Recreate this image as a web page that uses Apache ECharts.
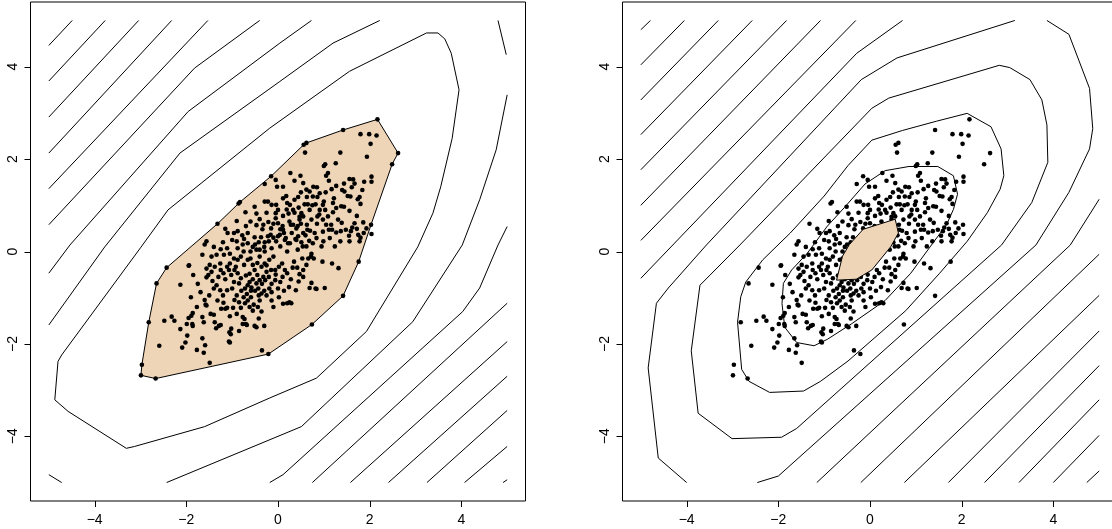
<!DOCTYPE html>
<html>
<head>
<meta charset="utf-8">
<script src="https://cdn.jsdelivr.net/npm/echarts@6/dist/echarts.min.js"></script>
<style>
  html, body { margin: 0; background: #fff; }
  #chart { width: 1112px; height: 529px; }
</style>
</head>
<body>
<div id="chart"></div>
<script>
// tick labels shared by both panels
const ticks = [-4, -2, 0, 2, 4];

// sample points (same data in both panels)
const pts = [
  [2.17,2.86],[1.42,2.63],[1.80,2.54],[1.99,2.54],[2.15,2.51],[2.02,2.33],[0.62,2.35],[0.56,2.31],[0.59,2.14],[1.36,2.14],
  [2.62,2.13],[1.94,2.05],[2.49,1.89],[1.03,1.89],[1.00,1.85],[1.26,1.91],[1.09,1.70],[1.05,1.64],[0.27,1.70],[0.49,1.64],
  [-0.15,1.63],[-0.05,1.55],[0.11,1.40],[-0.02,1.40],[0.36,1.53],[0.55,1.48],[0.69,1.30],[0.62,1.34],[0.85,1.39],[0.77,1.40],
  [1.11,1.53],[1.27,1.42],[1.44,1.47],[1.56,1.57],[1.64,1.56],[1.67,1.47],[1.88,1.51],[2.04,1.62],[2.04,1.51],[1.84,1.33],
  [1.61,1.39],[1.45,1.30],[1.40,1.33],[1.58,1.19],[1.78,1.18],[1.80,1.03],[1.74,1.13],[1.22,1.15],[1.20,1.05],[1.04,1.28],
  [1.00,1.08],[0.76,1.19],[0.63,1.18],[0.58,1.02],[0.91,1.26],[0.86,1.18],[0.98,1.01],[0.44,1.18],[0.36,1.12],[0.18,1.20],
  [0.11,1.15],[0.26,1.01],[-0.14,1.01],[-0.29,1.46],[-0.29,1.08],[-0.22,1.08],[0.50,1.28],[1.17,1.35],[1.52,1.20],[1.56,0.88],
  [1.44,0.97],
  [0.91,0.90],[1.03,0.90],[0.86,0.76],[0.69,0.90],[0.00,0.90],[-0.05,0.83],[0.33,0.90],[0.36,0.84],[0.51,0.83],[0.47,0.69],
  [0.55,0.76],[0.73,0.69],[0.63,0.58],[0.98,0.69],[1.09,0.76],[1.27,0.94],[1.38,0.98],[1.72,0.77],[1.67,0.61],[1.62,0.52],
  [1.31,0.69],[1.16,0.58],[1.11,0.47],[0.98,0.43],[1.27,0.41],[1.48,0.47],[1.39,0.62],[1.55,0.34],[1.75,0.36],[1.80,0.30],
  [1.93,0.50],[2.04,0.38],[2.03,0.58],[1.87,0.40],[1.86,0.63],[1.78,0.22],[1.56,0.22],[1.36,0.22],[1.24,0.11],[1.13,0.29],
  [0.84,0.29],[0.76,0.18],[0.55,0.40],[0.44,0.33],[0.15,0.25],[0.04,0.36],[0.11,0.47],[0.33,0.58],[0.00,0.61],[-0.10,0.60],
  [0.22,0.18],[0.51,0.20],[0.62,0.11],[0.95,0.11],[0.99,0.22],[0.70,0.45],[0.40,0.50],[0.19,0.91],[0.23,0.82],[0.11,0.77],
  [0.28,0.58],[0.43,0.55],[0.47,0.75],[0.64,0.47],[0.68,0.23],[0.38,0.27],[0.17,0.29],[1.05,0.58],[1.18,0.47],[1.37,0.44],
  [1.59,0.44],[1.72,0.49],[1.20,0.85],[0.82,1.02],[0.65,1.02],[0.10,0.55],[0.25,0.65],[0.30,0.40],[0.40,0.25],[0.50,0.60],
  [0.60,0.35],[0.80,0.40],[0.85,0.60],[0.90,0.80],[0.75,1.00],[0.45,0.95],[0.20,1.05],
  [-0.51,0.97],[-0.86,1.04],[-0.83,1.07],[-0.71,0.85],[-0.90,0.66],[-1.32,0.60],[-1.15,0.49],[-0.96,0.40],[-0.88,0.44],[-1.10,0.40],
  [-0.66,0.40],[-0.47,0.57],[-0.32,0.58],[-0.21,0.64],[-0.25,0.84],[-0.47,0.82],[-0.04,1.01],[-0.29,0.20],[-0.37,0.31],[-0.34,0.48],
  [-0.51,0.31],[-0.50,0.15],[-0.60,0.00],[-0.66,0.18],[-0.74,0.27],[-0.77,0.15],[-0.88,0.07],[-1.11,0.07],[-1.18,-0.07],[-1.34,-0.07],
  [-1.56,0.22],[-1.60,0.15],[-1.65,-0.07],[0.00,0.33],[0.13,0.40],[0.05,0.48],[-0.14,0.07],[0.05,0.11],[0.20,0.00],[0.26,0.18],
  [0.43,0.04],[0.54,0.11],[-0.22,0.33],[-0.40,0.04],[-0.16,0.36],[-0.04,0.22],[-0.05,0.72],[-0.15,0.50],[-0.40,0.70],[-0.60,0.65],
  [-0.70,0.55],[-0.78,0.35],[-0.90,0.22],[-1.00,0.25],[-1.20,0.20],[-1.25,0.05],[-1.40,0.10],[-0.55,0.10],[-0.42,0.20],[-0.30,0.10],
  [-0.20,0.22],[-0.10,0.30],
  [0.73,-0.05],[0.97,-0.22],[1.18,-0.26],[1.32,-0.36],[1.02,-0.79],[0.84,-0.81],[0.69,-0.79],[0.82,-0.80],[0.73,-0.68],[0.39,-0.84],
  [0.47,-0.49],[0.35,-0.22],[0.53,-0.15],[0.66,-0.15],[0.72,-0.11],[0.78,-0.15],[0.62,-0.29],[0.55,-0.40],[0.42,-0.35],[0.20,-0.47],
  [0.05,-0.66],[0.13,-0.85],[0.24,-0.77],[0.09,-0.26],[0.02,-0.33],[0.10,-0.55],[0.15,-0.40],[0.28,-0.60],[0.32,-0.35],[0.45,-0.65],
  [0.55,-0.55],[0.02,-0.99],[0.11,-1.13],[0.20,-1.12],[0.29,-1.12],[0.25,-1.10],[0.74,-1.58],[1.42,-0.96],[1.76,-0.22],
  [-0.06,-0.62],[-0.14,-0.70],[-0.19,-0.80],[0.00,-0.80],[-0.06,-0.40],[-0.10,-0.11],[-0.19,-0.18],[-0.29,-0.26],[-0.36,-0.33],[-0.25,-0.44],
  [-0.32,-0.55],[-0.45,-0.51],[-0.51,-0.40],[-0.55,-0.29],[-0.40,-0.11],[-0.29,0.00],[-0.47,0.04],[-0.66,-0.18],[-0.74,-0.29],[-0.81,-0.11],
  [-0.88,-0.18],[-0.96,-0.15],[-1.05,-0.26],[-1.26,-0.26],[-1.38,-0.33],[-1.49,-0.29],[-1.56,-0.37],[-1.45,-0.11],[-0.55,-0.60],[-0.40,-0.62],
  [-0.35,-0.70],[-0.28,-0.62],[-0.20,-0.55],[-0.62,-0.48],[-0.70,-0.52],[-0.58,-0.78],[-0.50,-0.85],[-0.42,-0.95],[-0.30,-0.85],[-0.68,-0.92],
  [-0.80,-0.85],[-0.90,-0.95],[-0.95,-1.05],[-0.85,-1.10],[-0.72,-1.12],[-0.62,-1.20],[-0.25,-0.30],[-0.15,-0.40],[-0.05,-0.50],[-0.45,-0.25],
  [-0.60,-0.15],[-0.75,0.00],[-1.05,-0.05],[-0.95,-0.40],[-1.15,-0.60],[-1.25,-0.40],[-1.40,-0.80],[-1.50,-0.95],[-1.20,-0.95],[-1.05,-1.40],
  [-0.90,-1.35],[-1.60,-1.05],[-1.75,-0.70],
  [-1.95,-0.31],[-1.85,-0.51],[-2.13,-0.72],[-1.90,-0.99],[-1.77,-1.20],[-1.69,-0.88],[-1.56,-0.56],[-1.52,-0.51],[-1.45,-0.44],[-1.43,-0.64],
  [-1.34,-0.73],[-1.30,-0.55],[-1.19,-0.47],[-1.11,-0.33],[-1.07,-0.40],[-1.02,-0.51],[-0.92,-0.33],[-0.88,-0.47],[-0.81,-0.58],[-0.85,-0.69],
  [-0.96,-0.66],[-1.00,-0.80],[-1.11,-0.84],[-1.26,-0.84],[-1.32,-1.06],[-1.19,-1.11],[-1.56,-1.17],[-1.65,-1.42],[-1.62,-1.53],[-1.86,-1.33],
  [-1.95,-1.44],[-1.99,-1.57],[-1.86,-1.61],[-2.13,-1.68],[-1.98,-1.82],[-2.02,-1.97],[-2.09,-2.08],[-1.77,-2.13],[-1.59,-2.03],[-1.62,-2.19],
  [-1.65,-1.88],[-1.49,-2.41],[-2.26,-1.50],[-2.48,-1.50],[-2.32,-1.41],[-2.59,-2.04],[-2.82,-1.53],[-2.97,-2.45],[-2.99,-2.68],[-2.67,-2.75],
  [-2.65,-0.69],[-2.43,-0.35],[-1.94,-0.30],[-1.47,-1.35],[-1.38,-1.53],[-1.29,-1.61],[-1.25,-1.59],[-1.35,-1.66],[-1.06,-1.75],[-1.05,-1.97],
  [-1.02,-1.67],[-0.85,-1.72],[-1.11,-1.22],[-1.15,-1.24],[-1.24,-1.24],[-0.98,-1.22],[-0.81,-1.22],[-0.77,-1.42],[-0.73,-1.46],[-0.70,-1.57],
  [-0.77,-1.57],[-0.68,-1.59],[-0.51,-1.61],[-0.47,-1.64],[-0.42,-1.45],[-0.30,-1.61],[-0.35,-2.14],[-0.21,-2.22],[-0.66,-1.06],[-0.75,-0.99],
  [-0.59,-0.99],[-0.59,-0.85],[-0.72,-0.80],[-0.66,-0.73],[-0.62,-0.66],[-0.47,-0.69],[-0.43,-0.80],[-0.36,-0.91],[-0.53,-1.15],[-0.44,-1.20],
  [-0.40,-1.06],[-0.14,-1.06],[-0.10,-1.20],[-0.14,-0.88],[-0.25,-0.95],[-0.36,-1.30],[-0.55,-1.28],[-1.89,-1.39],[-1.87,-1.57],[-1.58,-1.15],
  [-1.40,-1.37],[-1.03,-1.79],[-1.07,-1.95]
];

// left panel: outer hull of the points
const hullLeft = [
  [2.17,2.86],[1.42,2.63],[0.62,2.35],[0.56,2.31],[-0.15,1.63],[-0.83,1.07],[-0.86,1.04],[-1.32,0.60],
  [-2.43,-0.35],[-2.65,-0.69],[-2.82,-1.53],[-2.97,-2.45],[-2.99,-2.68],[-2.67,-2.75],[-0.21,-2.22],
  [0.74,-1.58],[1.42,-0.96],[1.76,-0.22],[2.03,0.58],[2.49,1.89],[2.62,2.13]
];

// right panel: deepest region
const coreRight = [
  [-0.15,0.48],[0.55,0.70],[0.62,0.40],[0.45,0.10],[0.04,-0.40],[-0.30,-0.60],[-0.73,-0.62],[-0.60,-0.10],[-0.45,0.15]
];

// left panel contour lines
const linesLeft = [
  [[-5,4.46],[-4.49,5]],
  [[-5,3.69],[-3.77,5]],
  [[-5,2.91],[-3.04,5]],
  [[-5,2.13],[-2.32,5]],
  [[-5,1.36],[-1.53,5]],
  [[-5,0.58],[-1.82,3.97],[-0.40,5]],
  [[-5,-0.47],[-4.54,0.14],[-1.96,3.03],[0.04,4.51],[0.73,5]],
  [[-5,-1.59],[-3.78,0.10],[-2.14,2.13],[0.04,3.68],[1.20,4.51],[2.22,5]],
  [[3.95,3.50],[3.78,4.29],[3.64,4.60],[3.49,4.73],[3.24,4.73],[1.56,3.90],[-0.18,2.67],[-2.40,0.90],[-3.00,0.08],
   [-4.72,-2.24],[-4.80,-2.38],[-4.87,-3.21],[-4.58,-3.46],[-3.31,-4.26],[-3.13,-4.22],[-1.60,-3.79],[-0.18,-3.17],
   [0.84,-2.74],[1.93,-1.73],[3.05,0.10],[3.38,0.83],[3.55,1.40],[3.80,2.45],[3.95,3.50]],
  [[-2.43,-5],[0,-4.0],[0.51,-3.79],[2.94,-1.52],[4.02,0.14],[4.40,1.12],[4.76,2.20],[5,3.39]],
  [[5,0.54],[4.80,0.14],[4.40,-0.79],[4.03,-1.30],[0.11,-4.83],[-0.18,-5]],
  [[5,-1.12],[0.75,-5]],
  [[5,-1.95],[1.58,-5]],
  [[5,-2.70],[2.41,-5]],
  [[5,-3.44],[3.25,-5]],
  [[5,-4.22],[4.07,-5]],
  [[5,-4.94],[4.91,-5]],
  [[4.80,5],[4.98,4.26]],
  [[-5,-4.83],[-4.72,-5]]
];

// right panel contour lines
const linesRight = [
  [[-5,4.80],[-4.79,5]],
  [[-5,4.04],[-4.05,5]],
  [[-5,3.28],[-3.31,5]],
  [[-5,2.53],[-2.57,5]],
  [[-5,1.77],[-1.82,5]],
  [[-5,1.00],[-1.08,5]],
  [[-5,0.24],[-0.31,5]],
  [[-5,-0.58],[-0.29,4.29],[0.71,5]],
  [[3.16,5],[0.59,4.19],[-0.19,3.72],[-3.57,0.14],[-4.40,-0.79],[-4.66,-1.12],[-4.84,-2.52],[-4.62,-4.47],[-4.00,-5]],
  [[2.82,4.03],[3.05,3.98],[3.49,3.72],[3.75,3.28],[3.86,2.74],[3.88,1.93],[3.53,1.06],[2.87,0.14],[-1.60,-3.83],
   [-1.93,-4.02],[-3.01,-4.05],[-3.75,-3.50],[-3.90,-2.15],[-3.71,-0.73],[-2.84,0.14],[0.04,3.10],[0.41,3.32],[2.82,4.03]],
  [[2.12,2.99],[2.64,2.70],[2.86,2.22],[2.92,1.64],[2.84,1.35],[2.56,0.84],[2.12,0.22],[1.52,-0.47],[0.78,-1.28],
   [0.11,-1.86],[-0.48,-2.37],[-1.08,-2.81],[-1.45,-3.02],[-2.19,-3.05],[-2.64,-2.81],[-2.80,-2.55],[-2.89,-1.53],
   [-2.82,-0.98],[-2.71,-0.66],[-2.34,-0.18],[-1.74,0.40],[-1.00,1.20],[-0.48,1.86],[0.04,2.41],[0.71,2.62],[1.45,2.82],[2.12,2.99]],
  [[1.48,1.84],[1.82,1.64],[1.91,1.24],[1.82,0.91],[1.67,0.58],[1.37,0.18],[0.89,-0.47],[0.33,-1.06],[-0.41,-1.57],
   [-0.93,-1.90],[-1.22,-2.04],[-1.60,-1.97],[-1.86,-1.64],[-1.92,-1.13],[-1.89,-0.69],[-1.71,-0.40],[-1.37,-0.04],
   [-0.93,0.55],[-0.56,0.95],[-0.11,1.46],[0.33,1.75],[0.85,1.84],[1.48,1.84]],
  [[3.86,5],[4.34,4.70],[4.79,3.53],[4.86,2.66],[4.79,2.22],[4.34,1.28],[3.62,0.14],[-2.00,-4.86],[-2.46,-5]],
  [[5,1.13],[4.37,0.14],[-1.16,-5]],
  [[5,-0.06],[-0.20,-5]],
  [[5,-0.95],[0.75,-5]],
  [[5,-1.72],[1.71,-5]],
  [[5,-2.47],[2.50,-5]],
  [[5,-3.21],[3.25,-5]],
  [[5,-3.98],[4.00,-5]],
  [[5,-4.75],[4.73,-5]]
];

const chart = echarts.init(document.getElementById('chart'));
const font = '"Liberation Sans", Arial, Helvetica, sans-serif';
const minus = v => String(v).replace('-', '\u2212');
const lim = 5.4;

function xAx(i) {
  return {
    gridIndex: i, type: 'value', min: -lim, max: lim,
    splitLine: { show: false },
    axisLine: { show: false, onZero: false },
    axisTick: { show: false },
    axisLabel: { customValues: ticks, formatter: minus, color: '#000', fontSize: 14, fontFamily: font, margin: 12 }
  };
}
function yAx(i) {
  return {
    gridIndex: i, type: 'value', min: -lim, max: lim,
    splitLine: { show: false },
    axisLine: { show: false, onZero: false },
    axisTick: { show: false },
    axisLabel: { customValues: ticks, formatter: minus, rotate: 90, color: '#000', fontSize: 14, fontFamily: font, margin: 10 }
  };
}
function poly(i, points, z) {
  return {
    type: 'custom', xAxisIndex: i, yAxisIndex: i, z: z, silent: true,
    data: [[0, 0]],
    renderItem: (params, api) => ({
      type: 'polygon',
      shape: { points: points.map(p => api.coord(p)) },
      style: { fill: '#EED5B7', stroke: '#000', lineWidth: 1 }
    })
  };
}
function lines(i, list) {
  return list.map(l => ({
    type: 'line', xAxisIndex: i, yAxisIndex: i, data: l, z: 2,
    symbol: 'none', silent: true, lineStyle: { color: '#000', width: 1 }
  }));
}
function dots(i, z) {
  return {
    type: 'scatter', xAxisIndex: i, yAxisIndex: i, data: pts, z: z,
    symbolSize: 4.6, silent: true, itemStyle: { color: '#000', opacity: 1 }
  };
}

const gridBase = { top: 2, width: 495, height: 499, show: true, borderColor: '#000', borderWidth: 1, outerBoundsMode: 'none' };

chart.setOption({
  animation: false,
  grid: [
    Object.assign({ left: 30.5 }, gridBase),
    Object.assign({ left: 622.5 }, gridBase)
  ],
  xAxis: [xAx(0), xAx(1)],
  yAxis: [yAx(0), yAx(1)],
  series: [
    poly(0, hullLeft, 1),
    ...lines(0, linesLeft),
    dots(0, 3),
    ...lines(1, linesRight),
    dots(1, 3),
    poly(1, coreRight, 4)
  ]
});

// outward tick marks on the bottom and left edges, placed through the axes
const tickEls = [];
[0, 1].forEach(i => {
  ticks.forEach(t => {
    const b = chart.convertToPixel({ xAxisIndex: i, yAxisIndex: i }, [t, -lim]);
    const l = chart.convertToPixel({ xAxisIndex: i, yAxisIndex: i }, [-lim, t]);
    const bx = Math.round(b[0]) + 0.5, ly = Math.round(l[1]) + 0.5;
    tickEls.push({ type: 'line', silent: true, z: 10,
      shape: { x1: bx, y1: b[1], x2: bx, y2: b[1] + 6 }, style: { stroke: '#000', lineWidth: 1 } });
    tickEls.push({ type: 'line', silent: true, z: 10,
      shape: { x1: l[0], y1: ly, x2: l[0] - 6, y2: ly }, style: { stroke: '#000', lineWidth: 1 } });
  });
});
chart.setOption({ graphic: { elements: tickEls } });
</script>
</body>
</html>
